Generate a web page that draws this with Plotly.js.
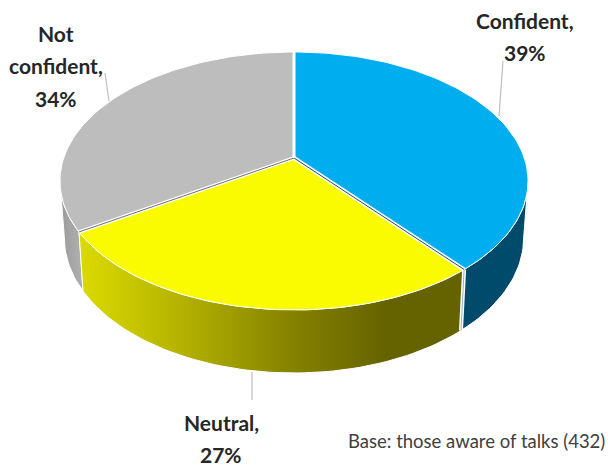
<!DOCTYPE html>
<html>
<head>
<meta charset="utf-8">
<script src="https://cdn.plot.ly/plotly-3.0.1.min.js"></script>
<style>html,body{margin:0;padding:0;background:#fff}</style>
</head>
<body>
<div id="chart" style="width:608px;height:466px"></div>
<script>
// Survey shares, clockwise from twelve o'clock
const categories = ["Confident", "Neutral", "Not confident"];
const shares = [39, 27, 34];
const faceColors = ["#00aeef", "#fbfb00", "#bdbdbd"];
const baseNote = "Base: those aware of talks (432)";

// Label text is broken over lines; the last line carries the share
const labelLines = [["Confident,"], ["Neutral,"], ["Not", "confident,"]];
const labelAnchors = [[525, 20], [221, 422], [56, 33]];
const labelGap = 32.5;

// Tilted-disc projection: near edge is larger than far edge
const cx = 294, persp = 0.178;
const topDisc = {cy: 158, rx: 230.3, ry: 124.9};
const lowDisc = {cy: 213.6, rx: 226, ry: 131};

function project(disc, deg, radius = 1) {
  const a = deg * Math.PI / 180;
  const u = radius * Math.sin(a), v = radius * Math.cos(a);
  const d = 1 + persp * v;
  return [cx + disc.rx * u / d, disc.cy - disc.ry * v / d];
}
function arc(disc, from, to) {
  const n = Math.max(2, Math.ceil(Math.abs(to - from) / 1.5));
  const pts = [];
  for (let i = 0; i <= n; i++) pts.push(project(disc, from + (to - from) * i / n));
  return pts;
}
function poly(pts, extra) {
  return Object.assign({
    type: "scatter", mode: "lines", hoverinfo: "skip", showlegend: false,
    x: pts.map(p => p[0]), y: pts.map(p => p[1]),
    fill: "toself", line: {color: "#ffffff", width: 1}
  }, extra);
}
function stroke(pts, color, width) {
  return {
    type: "scatter", mode: "lines", hoverinfo: "skip", showlegend: false,
    x: pts.map(p => p[0]), y: pts.map(p => p[1]),
    line: {color, width}
  };
}

// Cumulative sector boundaries in degrees
const total = shares.reduce((a, b) => a + b, 0);
const edges = [0];
shares.forEach(s => edges.push(edges[edges.length - 1] + s / total * 360));

// Silhouette angles, where the rim is widest on screen
const rightTurn = Math.acos(-persp) * 180 / Math.PI;
const leftTurn = 360 - rightTurn;

function wall(from, to, extra) {
  const pts = arc(topDisc, from, to).concat(arc(lowDisc, to, from));
  pts.push(pts[0]);
  return poly(pts, extra);
}

const traces = [];

// Side walls
traces.push(wall(edges[2], leftTurn, {
  fillgradient: {type: "horizontal", start: 60, stop: 86,
    colorscale: [[0, "#9a9a9a"], [1, "#b4b4b4"]]}
}));
traces.push(wall(rightTurn, edges[1], {fillcolor: "#004b6b"}));
traces.push(wall(edges[1], edges[2], {
  fillgradient: {type: "horizontal", start: 84, stop: 462,
    colorscale: [[0, "#d9d900"], [0.25, "#b5b300"], [0.55, "#858200"], [0.8, "#656300"], [1, "#656300"]]}
}));

// Seam between the blue and yellow walls
const seam = [project(topDisc, edges[1]), project(lowDisc, edges[1])];
traces.push(stroke(seam, "#ffffff", 4));
traces.push(stroke(seam, "#8fb4c4", 1));

// Top faces
categories.forEach((c, i) => {
  const pts = [[cx, topDisc.cy]].concat(arc(topDisc, edges[i], edges[i + 1]));
  pts.push([cx, topDisc.cy]);
  traces.push(poly(pts, {name: c, fillcolor: faceColors[i]}));
});

// Gaps between faces, each with the thin dark edge of the slice beneath
const apex = [cx, topDisc.cy];
traces.push(stroke([apex, project(topDisc, edges[1])], "#ffffff", 4));
traces.push(stroke([apex, project(topDisc, edges[1])], "#1c4f66", 1));
traces.push(stroke([apex, project(topDisc, edges[2])], "#ffffff", 3.5));
traces.push(stroke([apex, project(topDisc, edges[2])], "#6f6f6f", 1));
traces.push(stroke([apex, project(topDisc, 0)], "#ffffff", 3));

// Leader lines from the labels to the rim
const leaders = [
  [[503, 61], [499, 116]],
  [[252, 372], [252, 400]],
  [[105, 73], [109, 101]]
];
leaders.forEach(l => traces.push(stroke(l, "#bfbfbf", 1.2)));

const labelFont = {family: "Lato, sans-serif", size: 21, color: "#262626", weight: 700};
const annotations = [];
labelLines.forEach((lines, i) => {
  lines.concat([shares[i] + "%"]).forEach((text, j) => {
    annotations.push({
      xref: "x", yref: "y", x: labelAnchors[i][0], y: labelAnchors[i][1] + j * labelGap,
      text, showarrow: false, xanchor: "center", yanchor: "middle", font: labelFont
    });
  });
});
annotations.push({
  xref: "x", yref: "y", x: 607, y: 441, text: baseNote, showarrow: false,
  xanchor: "right", yanchor: "middle",
  font: {family: "Lato, sans-serif", size: 18.5, color: "#404040"}
});

const layout = {
  width: 608, height: 466, margin: {l: 0, r: 0, t: 0, b: 0},
  paper_bgcolor: "#ffffff", plot_bgcolor: "#ffffff", showlegend: false,
  xaxis: {range: [0, 608], visible: false, fixedrange: true},
  yaxis: {range: [466, 0], visible: false, fixedrange: true},
  annotations
};
Plotly.newPlot("chart", traces, layout, {displayModeBar: false, staticPlot: true});
</script>
</body>
</html>
